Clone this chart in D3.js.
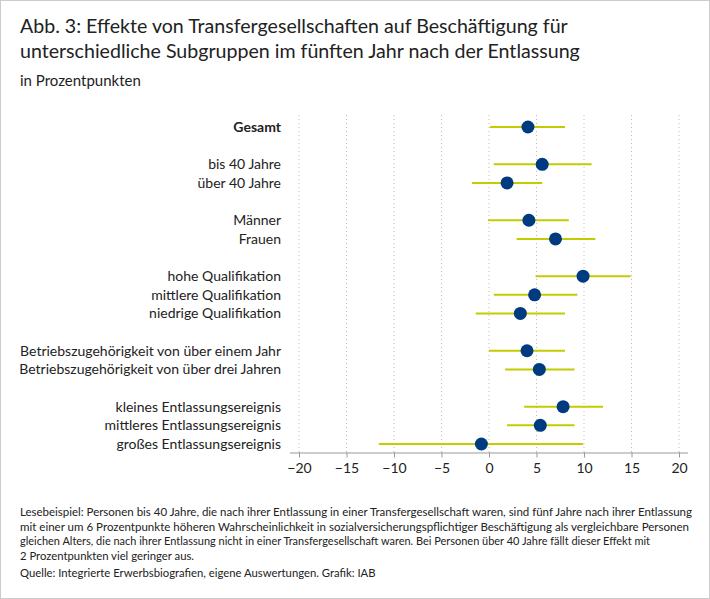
<!DOCTYPE html>
<html><head><meta charset="utf-8">
<script src="https://cdn.jsdelivr.net/npm/d3@7"></script>
<style>body{margin:0;background:#fff}text{font-family:Lato,"Open Sans",sans-serif;fill:#222}</style>
</head><body><svg id="c" width="710" height="599"></svg>
<script>
const labels=["Gesamt","bis 40 Jahre","über 40 Jahre","Männer","Frauen","hohe Qualifikation","mittlere Qualifikation","niedrige Qualifikation","Betriebszugehörigkeit von über einem Jahr","Betriebszugehörigkeit von über drei Jahren","kleines Entlassungsereignis","mittleres Entlassungsereignis","großes Entlassungsereignis"];
const slots=[0,2,3,5,6,8,9,10,12,13,15,16,17];
const estimate=[4.1,5.6,1.9,4.2,7.0,9.9,4.8,3.3,4.0,5.3,7.8,5.4,-0.8];
const lower=[0.1,0.5,-1.8,-0.1,2.9,4.9,0.5,-1.4,0.0,1.7,3.7,1.9,-11.6];
const upper=[8.0,10.8,5.6,8.4,11.2,14.9,9.3,8.0,8.0,9.0,12.0,9.0,9.9];
const ticks=[-20,-15,-10,-5,0,5,10,15,20];
const footer=["Lesebeispiel: Personen bis 40 Jahre, die nach ihrer Entlassung in einer Transfergesellschaft waren, sind fünf Jahre nach ihrer Entlassung","mit einer um 6 Prozentpunkte höheren Wahrscheinlichkeit in sozialversicherungspflichtiger Beschäftigung als vergleichbare Personen","gleichen Alters, die nach ihrer Entlassung nicht in einer Transfergesellschaft waren. Bei Personen über 40 Jahre fällt dieser Effekt mit","2 Prozentpunkten viel geringer aus."];
const footerW=[672,669,630,0];
const source="Quelle: Integrierte Erwerbsbiografien, eigene Auswertungen. Grafik: IAB";

const svg=d3.select("#c");
svg.append("rect").attr("x",0.5).attr("y",0.5).attr("width",709).attr("height",598).attr("fill","none").attr("stroke","#ccc");
svg.append("text").attr("x",20).attr("y",33).attr("font-size",19.6).text("Abb. 3: Effekte von Transfergesellschaften auf Beschäftigung für");
svg.append("text").attr("x",20).attr("y",58).attr("font-size",19.6).text("unterschiedliche Subgruppen im fünften Jahr nach der Entlassung");
svg.append("text").attr("x",20).attr("y",86).attr("font-size",15).text("in Prozentpunkten");

const x=d3.scaleLinear().domain([-20,20]).range([299,679]);
const y=d3.scaleLinear().domain([0,17]).range([127,444]);
const g=svg.append("g");
g.selectAll(".grid").data(ticks).join("line").attr("x1",d=>x(d)).attr("x2",d=>x(d)).attr("y1",115).attr("y2",452)
 .attr("stroke","#bbb").attr("stroke-dasharray","1,3");
const ax=svg.append("g").attr("transform","translate(0,452.5)").call(d3.axisBottom(x).tickValues(ticks).tickSize(5).tickFormat(d=>d<0?"\u2212"+(-d):d));
ax.select(".domain").attr("stroke","#999").attr("d","M290,0.5H688");
ax.selectAll(".tick line").attr("stroke","#999");
ax.selectAll(".tick text").attr("font-size",14).attr("fill","#222").attr("font-family","Lato,sans-serif").attr("dy","0.9em");

labels.forEach((l,i)=>{
 svg.append("text").attr("x",281).attr("y",y(slots[i])+5).attr("text-anchor","end").attr("font-size",14)
  .attr("font-weight",i===0?"bold":"normal").text(l);
});
g.selectAll(".ci").data(labels).join("line").attr("x1",(d,i)=>x(lower[i])).attr("x2",(d,i)=>x(upper[i]))
 .attr("y1",(d,i)=>y(slots[i])).attr("y2",(d,i)=>y(slots[i])).attr("stroke","#c3cc00").attr("stroke-width",2);
g.selectAll(".pt").data(labels).join("circle").attr("cx",(d,i)=>x(estimate[i])).attr("cy",(d,i)=>y(slots[i])).attr("r",6.5).attr("fill","#003a80");

footer.forEach((t,i)=>{
 const e=svg.append("text").attr("x",20).attr("y",516+i*14.7).attr("font-size",11.3).attr("font-family","'Liberation Sans Narrow',Lato,sans-serif").text(t);
 if(footerW[i])e.attr("textLength",footerW[i]).attr("lengthAdjust","spacingAndGlyphs");
});
svg.append("text").attr("x",20).attr("y",577).attr("font-size",11.3).attr("font-family","'Liberation Sans Narrow',Lato,sans-serif").text(source);
</script></body></html>
